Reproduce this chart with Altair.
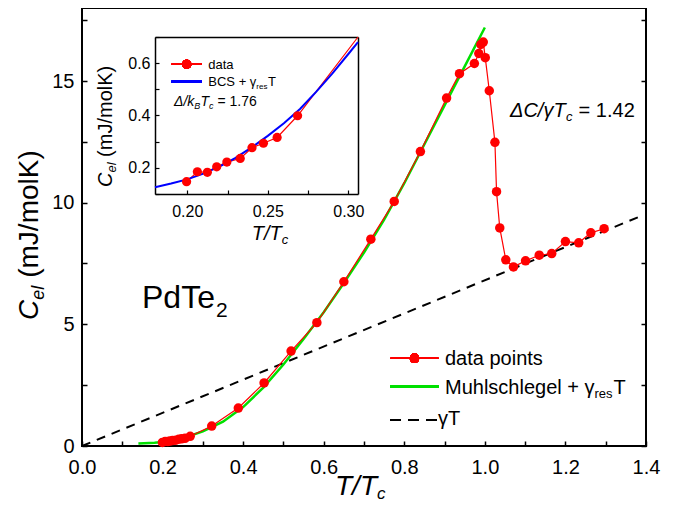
import altair as alt
import pandas as pd

FONT = "Liberation Sans"

# ---------------- data ----------------
T_data = [0.1996, 0.2063, 0.2125, 0.2183, 0.2246, 0.2329, 0.2402, 0.2473, 0.2558, 0.2685,
          0.322, 0.388, 0.452, 0.519, 0.583, 0.650, 0.717, 0.775, 0.840, 0.905,
          0.937, 0.974, 0.985, 0.990, 0.996, 1.001, 1.011, 1.025, 1.029, 1.037,
          1.052, 1.071, 1.101, 1.135, 1.166, 1.200, 1.233, 1.263, 1.296]
C_data = [0.147, 0.185, 0.183, 0.204, 0.222, 0.236, 0.277, 0.294, 0.316, 0.399,
          0.82, 1.56, 2.59, 3.9, 5.07, 6.75, 8.5, 10.05, 12.1, 14.3,
          15.3, 15.72, 16.13, 16.5, 16.6, 15.96, 14.6, 12.48, 10.45, 8.96,
          7.65, 7.36, 7.61, 7.84, 7.91, 8.4, 8.35, 8.76, 8.93]

T_fit = [0.14, 0.18, 0.2, 0.25, 0.3, 0.35, 0.4, 0.45, 0.5, 0.55, 0.6, 0.65, 0.7,
         0.75, 0.8, 0.85, 0.9, 0.95, 1.0]
C_fit = [0.1, 0.13, 0.16, 0.32, 0.6, 1.0, 1.6, 2.4, 3.35, 4.4, 5.5, 6.7, 7.95,
         9.3, 10.8, 12.4, 14.0, 15.6, 17.2]

T_gamma = [0.0, 1.38]
C_gamma = [0.0, 9.4]

T_bcs = [0.18, 0.19, 0.20, 0.21, 0.22, 0.23, 0.24, 0.25, 0.26, 0.27, 0.28, 0.29, 0.30, 0.306]
C_bcs = [0.126, 0.140, 0.156, 0.178, 0.205, 0.238, 0.278, 0.322, 0.370, 0.425, 0.490, 0.560, 0.635, 0.680]

x_ticks_main = [round(i * 0.1, 1) for i in range(15)]
y_ticks_main = [i * 2.5 for i in range(8)]
x_ticks_inset = [0.2, 0.225, 0.25, 0.275, 0.3]
y_ticks_inset = [0.1, 0.2, 0.3, 0.4, 0.5, 0.6, 0.7]

# annotation texts (pixel positions relative to plot origin)
ann_text = ["\u0394C/\u03b3T", "c", "= 1.42",
            "PdTe", "2",
            "C", "el", "(mJ/molK)",
            "T/T", "c",
            "data points", "Muhlschlegel + \u03b3", "res", "T", "\u03b3T",
            "data", "BCS + \u03b3", "res", "T",
            "\u0394/k", "B", "T", "c", "= 1.76",
            "C", "el", "(mJ/molK)",
            "T/T", "c"]
ann_x = [428, 484, 496.6,
         60, 134,
         -44, -38, -44,
         253, 295,
         363, 363, 512.5, 531.6, 356,
         126.3, 126.3, 174.3, 186,
         92, 112.2, 118.5, 127, 135.4,
         30, 34, 30,
         169.7, 199.7]
ann_y = [109, 113, 109,
         300, 309,
         312, 291.8, 269.8,
         487, 491,
         357, 385.5, 390, 385.5, 417,
         60.5, 78, 81, 78,
         98, 101, 98, 101, 98,
         179, 164.6, 148.9,
         232, 236]
ann_size = [20, 13, 20,
            32, 21,
            28, 18, 28,
            28, 17,
            20, 20, 13, 20, 20,
            13, 13, 8, 13,
            14, 9, 14, 9, 14,
            20, 13, 20,
            20, 13]
ann_angle = [0, 0, 0,
             0, 0,
             270, 270, 270,
             0, 0,
             0, 0, 0, 0, 0,
             0, 0, 0, 0,
             0, 0, 0, 0, 0,
             270, 270, 270,
             0, 0]
ann_style = ["italic", "italic", "normal",
             "normal", "normal",
             "italic", "italic", "normal",
             "italic", "italic",
             "normal", "normal", "normal", "normal", "normal",
             "normal", "normal", "normal", "normal",
             "italic", "italic", "italic", "italic", "normal",
             "italic", "italic", "normal",
             "italic", "italic"]

W, H = 564, 438

df_data = pd.DataFrame({"T": T_data, "C": C_data})
df_fit = pd.DataFrame({"T": T_fit, "C": C_fit})
df_gamma = pd.DataFrame({"T": T_gamma, "C": C_gamma})
df_bcs = pd.DataFrame({"T": T_bcs, "C": C_bcs})
ann = pd.DataFrame({"text": ann_text, "px": ann_x, "py": ann_y, "fs": ann_size,
                    "ang": ann_angle, "style": ann_style})

# ---------------- main panel ----------------
xs = alt.Scale(domain=[0, 1.4], nice=False, zero=False)
ys = alt.Scale(domain=[0, 18], nice=False, zero=False)

axis_common = dict(grid=False, domain=False, title=None, labelFont=FONT, labelColor="black",
                   tickColor="black", tickWidth=1.5, labelFlush=False, labelOverlap=False)

x_main_axis = alt.Axis(orient="bottom", values=x_ticks_main, tickSize={"expr": "-5"},
                       labelPadding=16, labelFontSize=20,
                       labelExpr="(round(datum.value*10) % 2 == 0) ? format(datum.value, '.1f') : ''",
                       **axis_common)
y_main_axis = alt.Axis(orient="left", values=y_ticks_main, tickSize={"expr": "-5"},
                       labelPadding=13, labelFontSize=20,
                       labelExpr="(round(datum.value*10) % 50 == 0) ? format(datum.value, 'd') : ''",
                       **axis_common)
y_right_axis = alt.Axis(orient="right", values=y_ticks_main, tickSize={"expr": "-5"},
                        labels=False, **axis_common)

gamma_line = alt.Chart(df_gamma).mark_line(color="black", strokeWidth=2, strokeDash=[9, 7]).encode(
    x=alt.X("T:Q", scale=xs, axis=x_main_axis),
    y=alt.Y("C:Q", scale=ys, axis=y_main_axis))
fit_line = alt.Chart(df_fit).mark_line(color="#00e000", strokeWidth=2.5).encode(
    x=alt.X("T:Q", scale=xs, axis=None), y=alt.Y("C:Q", scale=ys, axis=None))
data_line = alt.Chart(df_data).mark_line(color="#ff0000", strokeWidth=1.2).encode(
    x=alt.X("T:Q", scale=xs, axis=None), y=alt.Y("C:Q", scale=ys, axis=None))
data_pts = alt.Chart(df_data).mark_circle(color="#ff0000", size=90, opacity=1).encode(
    x=alt.X("T:Q", scale=xs, axis=None), y=alt.Y("C:Q", scale=ys, axis=None))
right_ticks = alt.Chart(df_data).mark_point(opacity=0).encode(
    x=alt.X("T:Q", scale=xs, axis=None), y=alt.Y("C:Q", scale=ys, axis=y_right_axis))

main = alt.layer(gamma_line, fit_line, data_line, data_pts, right_ticks).resolve_axis(
    x="independent", y="independent")

# ---------------- inset ----------------
ixs = alt.Scale(domain=[0.18, 0.306], range=[73, 276], nice=False, zero=False, clamp=True)
iys = alt.Scale(domain=[0.1, 0.7], range=[186, 29], nice=False, zero=False, clamp=True)

inset_common = dict(grid=False, title=None, labelFont=FONT, labelColor="black", tickColor="black",
                    tickWidth=1.2, domain=True, domainColor="black", domainWidth=1.5,
                    labelFlush=False, labelOverlap=False)
ix_axis = alt.Axis(orient="bottom", offset=-(H - 186), values=x_ticks_inset, tickSize={"expr": "-4"},
                   labelPadding=13, labelFontSize=16,
                   labelExpr="(round(datum.value*1000) % 50 == 0) ? format(datum.value, '.2f') : ''",
                   **inset_common)
iy_axis = alt.Axis(orient="left", offset=-73, values=y_ticks_inset, tickSize={"expr": "-4"},
                   labelPadding=9, labelFontSize=16,
                   labelExpr="(round(datum.value*10) % 2 == 0) ? format(datum.value, '.1f') : ''",
                   **inset_common)
ix_top = alt.Axis(orient="top", offset=-29, ticks=False, labels=False, **inset_common)
iy_right = alt.Axis(orient="right", offset=-(W - 276), ticks=False, labels=False, **inset_common)

bcs_line = alt.Chart(df_bcs).mark_line(color="#0000ff", strokeWidth=2).encode(
    x=alt.X("T:Q", scale=ixs, axis=ix_axis), y=alt.Y("C:Q", scale=iys, axis=iy_axis))
inset_line = alt.Chart(df_data).transform_filter(alt.datum.T < 0.33).mark_line(
    color="#ff0000", strokeWidth=1.2).encode(
    x=alt.X("T:Q", scale=ixs, axis=None), y=alt.Y("C:Q", scale=iys, axis=None))
inset_pts = alt.Chart(df_data).transform_filter(alt.datum.T < 0.3).mark_circle(
    color="#ff0000", size=85, opacity=1).encode(
    x=alt.X("T:Q", scale=ixs, axis=None), y=alt.Y("C:Q", scale=iys, axis=None))
inset_frame = alt.Chart(df_bcs).mark_line(strokeOpacity=0).encode(
    x=alt.X("T:Q", scale=ixs, axis=ix_top), y=alt.Y("C:Q", scale=iys, axis=iy_right))

inset = alt.layer(inset_line, bcs_line, inset_pts, inset_frame).resolve_axis(
    x="independent", y="independent")

# ---------------- annotations & legends ----------------
def text_layer(style):
    return alt.Chart(ann).transform_filter(alt.datum.style == style).mark_text(
        align="left", baseline="alphabetic", font=FONT, fontStyle=style, color="black").encode(
        x=alt.X("px:Q", scale=None), y=alt.Y("py:Q", scale=None), text="text:N",
        size=alt.Size("fs:Q", scale=None, legend=None), angle=alt.Angle("ang:Q", scale=None))

leg = [
    alt.Chart(ann).mark_rule(color="#ff0000", strokeWidth=1.2).encode(
        x=alt.value(308.7), x2=alt.value(356.3), y=alt.value(350.3)),
    alt.Chart(ann).mark_circle(color="#ff0000", size=90, opacity=1).encode(
        x=alt.value(332.5), y=alt.value(350.3)),
    alt.Chart(ann).mark_rule(color="#00e000", strokeWidth=2.5).encode(
        x=alt.value(308.7), x2=alt.value(356.3), y=alt.value(378.7)),
    alt.Chart(ann).mark_rule(color="black", strokeWidth=2, strokeDash=[10, 8]).encode(
        x=alt.value(308.7), x2=alt.value(355), y=alt.value(412)),
    alt.Chart(ann).mark_rule(color="#ff0000", strokeWidth=1.2).encode(
        x=alt.value(89.7), x2=alt.value(119.7), y=alt.value(56.3)),
    alt.Chart(ann).mark_circle(color="#ff0000", size=85, opacity=1).encode(
        x=alt.value(104.7), y=alt.value(56.3)),
    alt.Chart(ann).mark_rule(color="#0000ff", strokeWidth=2).encode(
        x=alt.value(89.7), x2=alt.value(119.7), y=alt.value(73.7)),
]

annot = alt.layer(text_layer("italic"), text_layer("normal"), *leg)

chart = alt.layer(main, inset, annot).resolve_scale(
    x="independent", y="independent").properties(
    width=W, height=H,
    autosize=alt.AutoSizeParams(type="none"),
    padding={"left": 74, "top": 0, "right": 29, "bottom": 58},
).configure_view(stroke="black", strokeWidth=2)

chart.save("out.html", embed_options={"renderer": "svg", "actions": False})
